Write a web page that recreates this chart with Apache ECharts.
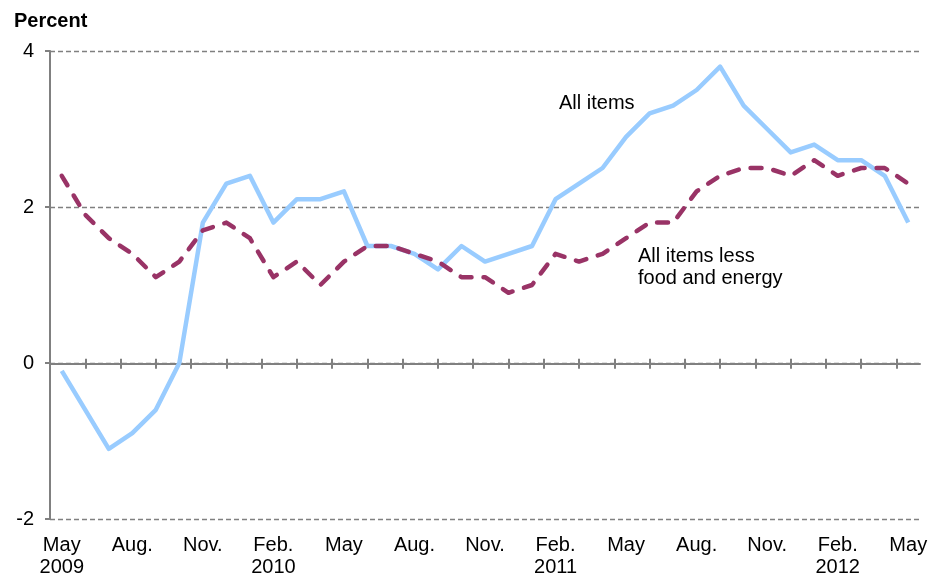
<!DOCTYPE html>
<html>
<head>
<meta charset="utf-8">
<script src="https://cdn.jsdelivr.net/npm/echarts@6/dist/echarts.min.js"></script>
<style>
  html, body { margin: 0; padding: 0; background: #fff; }
  #chart { width: 932px; height: 578px; }
</style>
</head>
<body>
<div id="chart"></div>
<script>
// monthly, May 2009 .. May 2012 (only every third month gets a label)
var months = [
  'May\n2009', 'Jun', 'Jul', 'Aug.', 'Sep', 'Oct', 'Nov.', 'Dec',
  'Jan', 'Feb.\n2010', 'Mar', 'Apr', 'May', 'Jun', 'Jul', 'Aug.', 'Sep', 'Oct', 'Nov.', 'Dec',
  'Jan', 'Feb.\n2011', 'Mar', 'Apr', 'May', 'Jun', 'Jul', 'Aug.', 'Sep', 'Oct', 'Nov.', 'Dec',
  'Jan', 'Feb.\n2012', 'Mar', 'Apr', 'May'
];
var allItems = [
  -0.1, -0.6, -1.1, -0.9, -0.6, 0.0, 1.8, 2.3, 2.4, 1.8, 2.1, 2.1, 2.2,
  1.5, 1.5, 1.4, 1.2, 1.5, 1.3, 1.4, 1.5, 2.1, 2.3, 2.5, 2.9, 3.2, 3.3,
  3.5, 3.8, 3.3, 3.0, 2.7, 2.8, 2.6, 2.6, 2.4, 1.8
];
var lessFoodEnergy = [
  2.4, 1.9, 1.6, 1.4, 1.1, 1.3, 1.7, 1.8, 1.6, 1.1, 1.3, 1.0, 1.3,
  1.5, 1.5, 1.4, 1.3, 1.1, 1.1, 0.9, 1.0, 1.4, 1.3, 1.4, 1.6, 1.8, 1.8,
  2.2, 2.4, 2.5, 2.5, 2.4, 2.6, 2.4, 2.5, 2.5, 2.3
];
var yTicks = [-2, 0, 2, 4];

var FONT = '"Liberation Sans", Arial, sans-serif';
var GRAY = '#808080';

var chart = echarts.init(document.getElementById('chart'));

// main plot area
var gLeft = 50, gRight = 12, gTop = 51, gBottom = 58;
var plotH = 578 - gTop - gBottom;
var zeroY = gTop + plotH * yTicks[yTicks.length - 1] / (yTicks[yTicks.length - 1] - yTicks[0]);

var option = {
  animation: false,
  backgroundColor: '#fff',
  textStyle: { fontFamily: FONT },
  title: {
    text: 'Percent',
    left: 9,
    top: 6,
    textStyle: { fontFamily: FONT, fontSize: 20, fontWeight: 'bold', color: '#000' }
  },
  grid: [
    { left: gLeft, right: gRight, top: gTop, bottom: gBottom },
    // thin strip around the zero line: its split lines are the crossing tick marks
    { left: gLeft, right: gRight, top: zeroY - 5, height: 10 }
  ],
  xAxis: [
    {
      type: 'category',
      data: months,
      boundaryGap: true,
      axisLine: { show: false, onZero: false },
      axisTick: { show: false },
      axisLabel: {
        interval: 2,
        margin: 15,
        fontSize: 20,
        lineHeight: 22,
        color: '#000',
        fontFamily: FONT
      },
      splitLine: { show: false }
    },
    {
      type: 'value',
      gridIndex: 1,
      min: 0,
      max: months.length,
      interval: 1.5,
      axisLine: { show: true, onZero: true, lineStyle: { color: GRAY, width: 2 } },
      axisTick: { show: false },
      axisLabel: { show: false },
      splitLine: { show: true, showMinLine: false, showMaxLine: false, lineStyle: { color: GRAY, width: 2 } }
    }
  ],
  yAxis: [
    {
      type: 'value',
      min: yTicks[0],
      max: yTicks[yTicks.length - 1],
      interval: 2,
      axisLine: { show: true, lineStyle: { color: GRAY, width: 2 } },
      axisTick: { show: true, length: 5, lineStyle: { color: GRAY, width: 2 } },
      axisLabel: { margin: 16, fontSize: 20, color: '#000', fontFamily: FONT },
      splitLine: { show: true, lineStyle: { color: GRAY, type: [5, 3], width: 1.3 } }
    },
    {
      type: 'value',
      gridIndex: 1,
      min: -1,
      max: 1,
      show: false
    }
  ],
  series: [
    {
      name: 'All items',
      type: 'line',
      data: allItems,
      symbol: 'none',
      lineStyle: { color: '#99CCFF', width: 4.5, join: 'round' },
      z: 3
    },
    {
      name: 'All items less food and energy',
      type: 'line',
      data: lessFoodEnergy,
      symbol: 'none',
      lineStyle: { color: '#993366', width: 4.5, type: [11, 12], cap: 'round', join: 'round' },
      z: 4
    }
  ],
  graphic: [
    {
      type: 'text',
      left: 559,
      top: 93,
      style: { text: 'All items', font: '20px ' + FONT, fill: '#000' }
    },
    {
      type: 'text',
      left: 638,
      top: 245,
      style: { text: 'All items less\nfood and energy', font: '20px ' + FONT, lineHeight: 22, fill: '#000' }
    }
  ]
};

chart.setOption(option);
</script>
</body>
</html>
